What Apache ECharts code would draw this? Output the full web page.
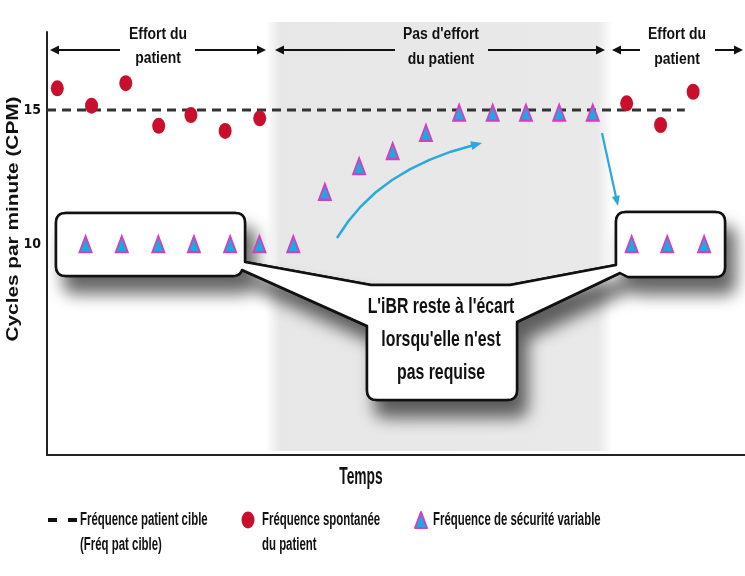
<!DOCTYPE html>
<html>
<head>
<meta charset="utf-8">
<script src="https://cdn.jsdelivr.net/npm/echarts@6/dist/echarts.min.js"></script>
<style>
html,body{margin:0;padding:0;background:#fff;}
#main{width:745px;height:576px;}
</style>
</head>
<body>
<div id="main"></div>
<script>
// ---- data ----
const spontTime = [0.31, 1.34, 2.37, 3.36, 4.33, 5.36, 6.40, 17.44, 18.46, 19.44];
const spontRate = [15.81, 15.16, 16.0, 14.41, 14.81, 14.22, 14.69, 15.25, 14.44, 15.68];
const safetyTime = [1.16, 2.25, 3.35, 4.42, 5.51, 6.39, 7.41, 8.36, 9.39, 10.40, 11.40, 12.40, 13.41, 14.41, 15.41, 16.42, 17.59, 18.66, 19.77];
const safetyRate = [10, 10, 10, 10, 10, 10, 10, 11.95, 12.91, 13.47, 14.15, 14.9, 14.9, 14.9, 14.9, 14.9, 10, 10, 10];
const targetRate = 15;
const targetTime = [0, 19.19];
const yTickValues = [10, 15];

const FONT = '"Liberation Sans", Arial, sans-serif';
const RED = '#c8102e';
const CYAN = '#1ea8e0';
const MAGENTA = '#d43fbf';
const BLUE = '#29a9e1';

const chart = echarts.init(document.getElementById('main'), null, {renderer: 'canvas'});

function txt(x, y, s, size, sx, align, extra) {
  align = align || 'center';
  return Object.assign({
    type: 'text', x: x, y: y, scaleX: sx, z: 3, silent: true,
    style: {
      text: s, x: 0, y: 0,
      font: 'bold ' + size + 'px ' + FONT,
      fill: '#111',
      textAlign: align, textVerticalAlign: 'middle',
      align: align, verticalAlign: 'middle'
    }
  }, extra || {});
}
function head(tx, ty, dx, dy, len, hw, color) {
  const l = Math.hypot(dx, dy); dx /= l; dy /= l;
  const bx = tx - dx * len, by = ty - dy * len;
  const px = -dy, py = dx;
  return {type: 'polygon', z: 3, silent: true,
    shape: {points: [[tx, ty], [bx + px * hw, by + py * hw], [bx - px * hw, by - py * hw]]},
    style: {fill: color}};
}
function seg(x1, y1, x2, y2, color, w) {
  return {type: 'line', z: 3, silent: true, shape: {x1: x1, y1: y1, x2: x2, y2: y2},
    style: {stroke: color, lineWidth: w}};
}
function spanArrow(x1, x2, g1, g2, y) {
  return [seg(x1 + 6, y, g1, y, '#111', 2), seg(g2, y, x2 - 6, y, '#111', 2),
    head(x1, y, -1, 0, 9, 4.5, '#111'), head(x2, y, 1, 0, 9, 4.5, '#111')];
}
// turn a simple path (M/L/Q) into polygon points
function pathPoints(cmds) {
  const pts = [];
  let cx = 0, cy = 0;
  cmds.forEach(c => {
    if (c[0] === 'M' || c[0] === 'L') { cx = c[1]; cy = c[2]; pts.push([cx, cy]); }
    else if (c[0] === 'Q') {
      const qx = c[1], qy = c[2], ex = c[3], ey = c[4];
      for (let i = 1; i <= 8; i++) {
        const t = i / 8, u = 1 - t;
        pts.push([u * u * cx + 2 * u * t * qx + t * t * ex, u * u * cy + 2 * u * t * qy + t * t * ey]);
      }
      cx = ex; cy = ey;
    }
  });
  return pts;
}

const calloutPts = pathPoints([
  ['M', 66, 213], ['L', 235, 213], ['Q', 245, 213, 245, 223], ['L', 245, 262], ['L', 371, 285],
  ['L', 510, 285], ['L', 616, 265], ['L', 616, 222], ['Q', 616, 212, 626, 212], ['L', 715, 212],
  ['Q', 725, 212, 725, 222], ['L', 725, 267], ['Q', 725, 277, 715, 277], ['L', 628, 277],
  ['L', 620, 273], ['L', 517, 322], ['L', 517, 390], ['Q', 517, 400, 507, 400], ['L', 377, 400],
  ['Q', 367, 400, 367, 390], ['L', 367, 326], ['L', 242, 270], ['Q', 240, 276, 232, 276],
  ['L', 66, 276], ['Q', 56, 276, 56, 266], ['L', 56, 223], ['Q', 56, 213, 66, 213]
]);

const graphics = [];
// shaded "no patient effort" zone
graphics.push({type: 'rect', z: 0, silent: true,
  shape: {x: 266, y: 22, width: 346, height: 429},
  style: {fill: new echarts.graphic.LinearGradient(0, 0, 1, 0, [
    {offset: 0, color: 'rgba(231,231,231,0)'},
    {offset: 0.04, color: '#e7e7e7'},
    {offset: 0.96, color: '#e9e9e9'},
    {offset: 1, color: 'rgba(233,233,233,0)'}])}});
// callout with shadow
graphics.push({type: 'polygon', z: 1, silent: true, shape: {points: calloutPts},
  style: {fill: '#fff', stroke: '#111', lineWidth: 2.5, lineJoin: 'round',
    shadowBlur: 16, shadowColor: 'rgba(0,0,0,0.6)', shadowOffsetX: 9, shadowOffsetY: 16}});
graphics.push({type: 'polygon', z: 1, silent: true, shape: {points: calloutPts},
  style: {fill: '#fff', stroke: '#111', lineWidth: 2.5, lineJoin: 'round'}});
graphics.push(txt(441, 307, "L'iBR reste à l'écart", 22, 0.72));
graphics.push(txt(441, 340, "lorsqu'elle n'est", 22, 0.72));
graphics.push(txt(441, 373, 'pas requise', 22, 0.72));

// top span arrows
graphics.push(...spanArrow(50, 266, 120, 195, 50));
graphics.push(...spanArrow(275, 605, 395, 488, 50));
graphics.push(...spanArrow(612, 743, 640, 715, 50));
graphics.push(txt(158, 35, 'Effort du', 16, 0.87));
graphics.push(txt(158, 59, 'patient', 16, 0.87));
graphics.push(txt(441, 35, "Pas d'effort", 16, 0.87));
graphics.push(txt(441, 60, 'du patient', 16, 0.87));
graphics.push(txt(677, 35, 'Effort du', 16, 0.87));
graphics.push(txt(677, 60, 'patient', 16, 0.87));

// blue arrows
graphics.push({type: 'polyline', z: 3, silent: true,
  shape: {points: pathPoints([['M', 337, 238], ['Q', 378, 169, 474, 145]])},
  style: {stroke: BLUE, lineWidth: 2.5, fill: null}});
graphics.push(head(482, 143, 102, -24, 11, 4.5, BLUE));
graphics.push(seg(602, 133, 616, 197, BLUE, 2.2));
graphics.push(head(618, 206, 16, 72, 10, 4, BLUE));

// axis titles
graphics.push(txt(14, 219, 'Cycles par minute (CPM)', 16, 1.3, 'center', {rotation: Math.PI / 2}));
graphics.push(txt(361, 478, 'Temps', 23, 0.6));

// legend
graphics.push(seg(48, 520, 57, 520, '#111', 4));
graphics.push(seg(68, 520, 77, 520, '#111', 4));
graphics.push(txt(80, 520, 'Fréquence patient cible', 18, 0.635, 'left'));
graphics.push(txt(80, 545, '(Fréq pat cible)', 18, 0.635, 'left'));
graphics.push({type: 'circle', z: 3, silent: true, x: 248, y: 520, scaleY: 1.3,
  shape: {cx: 0, cy: 0, r: 6.5}, style: {fill: RED}});
graphics.push(txt(262, 520, 'Fréquence spontanée', 18, 0.635, 'left'));
graphics.push(txt(262, 545, 'du patient', 18, 0.635, 'left'));
graphics.push({type: 'polygon', z: 3, silent: true, shape: {points: [[421, 512], [427, 528], [415, 528]]},
  style: {fill: CYAN, stroke: MAGENTA, lineWidth: 2, lineJoin: 'round'}});
graphics.push(txt(433, 520, 'Fréquence de sécurité variable', 18, 0.635, 'left'));

const option = {
  animation: false,
  backgroundColor: '#fff',
  grid: {left: 47, right: 0, top: 32, bottom: 121, containLabel: false},
  xAxis: {
    type: 'value', min: 0, max: 21,
    axisLine: {show: true, onZero: false, lineStyle: {color: '#222', width: 2}},
    axisTick: {show: false}, axisLabel: {show: false}, splitLine: {show: false}
  },
  yAxis: {
    type: 'value', min: 2.13, max: 17.91,
    axisLine: {show: true, onZero: false, lineStyle: {color: '#222', width: 2}},
    axisTick: {show: false},
    splitLine: {show: false},
    axisLabel: {
      show: true, customValues: yTickValues, margin: 6,
      fontFamily: '"Liberation Sans Narrow", "DejaVu Sans Condensed", sans-serif',
      fontWeight: 'bold', fontSize: 14, color: '#111'
    }
  },
  series: [
    {
      name: 'Fréquence patient cible', type: 'line', z: 2,
      data: targetTime.map(t => [t, targetRate]),
      symbol: 'none',
      lineStyle: {color: '#333', width: 3, type: [9, 6]}
    },
    {
      name: 'Fréquence spontanée du patient', type: 'scatter', z: 4,
      data: spontTime.map((t, i) => [t, spontRate[i]]),
      symbol: 'circle', symbolSize: [13, 16],
      itemStyle: {color: RED, opacity: 1}
    },
    {
      name: 'Fréquence de sécurité variable', type: 'scatter', z: 5,
      data: safetyTime.map((t, i) => [t, safetyRate[i]]),
      symbol: 'triangle', symbolSize: [12, 16],
      itemStyle: {color: CYAN, borderColor: MAGENTA, borderWidth: 2, opacity: 1}
    }
  ],
  graphic: {elements: graphics}
};
chart.setOption(option);
</script>
</body>
</html>
